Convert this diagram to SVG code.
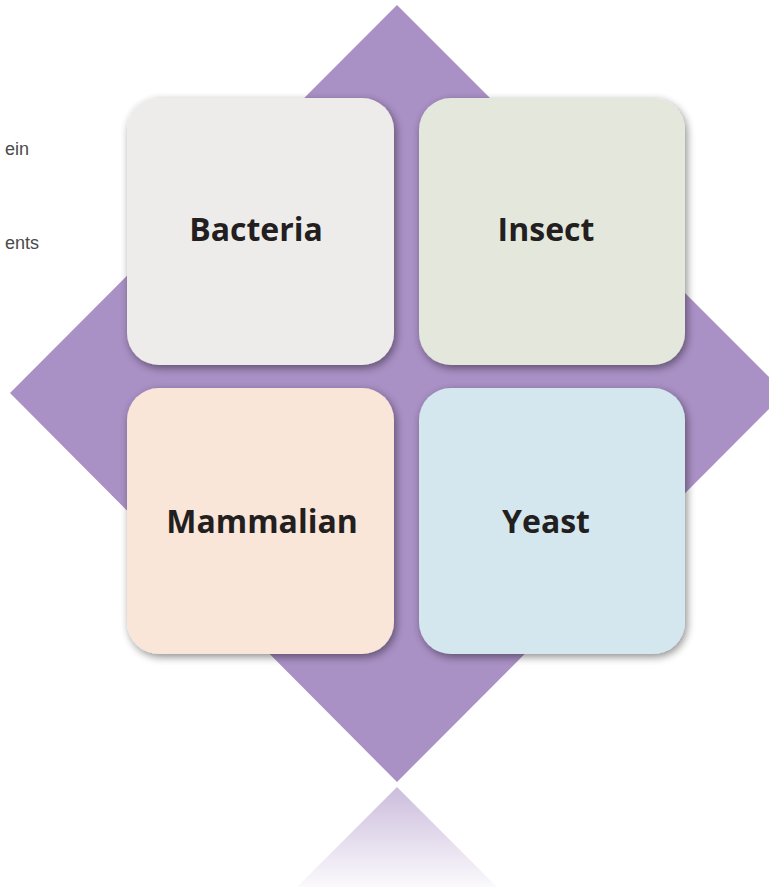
<svg xmlns="http://www.w3.org/2000/svg" width="769" height="888" viewBox="0 0 769 888">
<defs>
<style>
.lbl{font-family:"Open Sans","Noto Sans","DejaVu Sans",sans-serif;font-weight:700;font-size:32px;fill:#231f20;text-anchor:middle}
.side{font-family:"Liberation Sans",Arial,sans-serif;font-size:18px;fill:#4a4a4a;text-anchor:end}
.box{filter:url(#sh)}
</style>
<filter id="sh" x="-10%" y="-10%" width="125%" height="125%">
<feGaussianBlur in="SourceAlpha" stdDeviation="4"/>
<feOffset dx="2" dy="3"/>
<feComponentTransfer><feFuncA type="linear" slope="0.45"/></feComponentTransfer>
<feMerge><feMergeNode/><feMergeNode in="SourceGraphic"/></feMerge>
</filter>
<linearGradient id="refl" x1="0" y1="0" x2="0" y2="1">
<stop offset="0" stop-color="#a990c5" stop-opacity="0.6"/>
<stop offset="1" stop-color="#a990c5" stop-opacity="0.05"/>
</linearGradient>
</defs>
<rect width="769" height="888" fill="#ffffff"/>
<text class="side" x="29" y="155">ein</text>
<text class="side" x="39" y="249">ents</text>
<g id="diamond">
<polygon points="397,5 785,393 397,782 10,393" fill="#a990c5"/>
<polygon points="397,787 497,887 297,887" fill="url(#refl)"/>
</g>
<g id="bacteria">
<rect class="box" x="127" y="98" width="267" height="267" rx="32" fill="#eeeceb"/>
<text class="lbl" x="256" y="241">Bacteria</text>
</g>
<g id="insect">
<rect class="box" x="419" y="98" width="266" height="267" rx="32" fill="#e4e8dc"/>
<text class="lbl" x="546" y="241">Insect</text>
</g>
<g id="mammalian">
<rect class="box" x="127" y="388" width="267" height="266" rx="32" fill="#fae5d9"/>
<text class="lbl" x="262" y="533">Mammalian</text>
</g>
<g id="yeast">
<rect class="box" x="419" y="388" width="266" height="266" rx="32" fill="#d5e7ee"/>
<text class="lbl" x="546" y="533">Yeast</text>
</g>
<g id="connectors"></g>
</svg>
